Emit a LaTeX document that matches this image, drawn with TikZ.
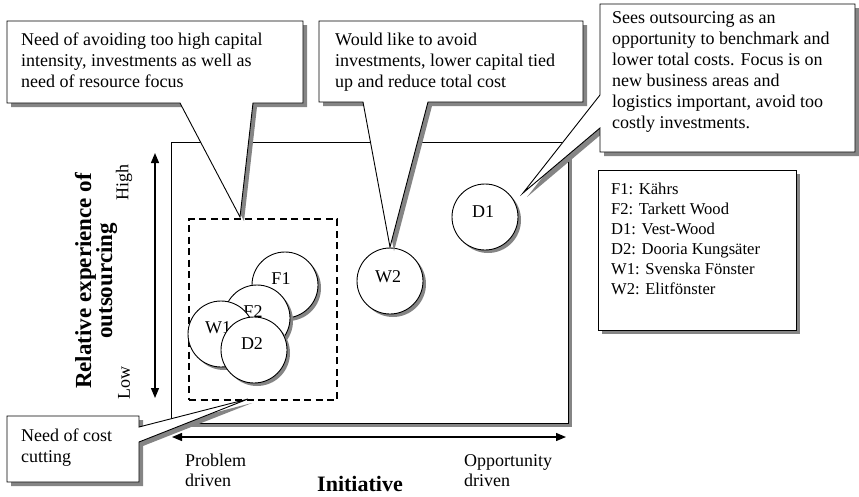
\documentclass[tikz,border=0pt]{standalone}
\usepackage{fontspec}
\setmainfont{Liberation Serif}
\usetikzlibrary{arrows.meta}
\definecolor{shadowgray}{HTML}{858585}

\begin{document}
\begin{tikzpicture}[x=1pt,y=-1pt,
  drop/.style={preaction={draw=none,fill=shadowgray,
      transform canvas={shift={(#1pt,-#1pt)}}}},
  frame/.style={draw=black,fill=white,line width=0.9pt,line join=miter},
  callout/.style={frame,drop=4},
  txt/.style={inner sep=0pt,align=left,font=\fontsize{18}{21}\selectfont},
  legendtxt/.style={inner sep=0pt,align=left,font=\fontsize{16.6}{20}\selectfont},
  axislabel/.style={inner sep=0pt,align=left,font=\fontsize{18}{20}\selectfont},
  boldlabel/.style={inner sep=0pt,align=center,
      font=\bfseries\fontsize{23}{21}\selectfont,
      execute at begin node={\lineskiplimit=-100pt\relax}},
  firm/.style={circle,draw=black,fill=white,line width=0.9pt,minimum size=66pt,
      inner sep=0pt,drop=3},
  firmname/.style={font=\fontsize{18}{20}\selectfont,inner sep=0pt},
  axisarrow/.style={line width=1.3pt,
      {Triangle[length=10pt,width=8pt]}-{Triangle[length=10pt,width=8pt]}},
  groupbox/.style={draw=black,line width=2pt,dash pattern=on 7pt off 4.5pt}]
\useasboundingbox (0,0) rectangle (859,496);

% plotting area
\node[frame,drop=4,minimum width=397pt,minimum height=281pt,inner sep=0pt,
      anchor=north west] (area) at (171,142) {};

% group of problem-driven firms
\node[groupbox,minimum width=148pt,minimum height=181pt,inner sep=0pt,
      anchor=north west] (group) at (188,218) {};

% firms
\node[firm,label={[firmname,xshift=-2pt,yshift=5pt]center:D1}] (D1) at (485,217) {};
\node[firm,label={[firmname,xshift=-2pt,yshift=4pt]center:W2}] (W2) at (390,281) {};
\node[firm,label={[firmname,xshift=-4pt,yshift=6pt]center:F1}] (F1) at (285,285) {};
\node[firm,label={[firmname,xshift=-4pt,yshift=6pt]center:F2}] (F2) at (257,318) {};
\node[firm,label={[firmname,xshift=-3pt,yshift=6pt]center:W1}] (W1) at (221,334) {};
\node[firm,label={[firmname,xshift=-2pt,yshift=6pt]center:D2}] (D2) at (254,350) {};

% axes
\coordinate (yhi) at (155,153);
\coordinate (ylo) at (155,398);
\coordinate (xlo) at (172,437);
\coordinate (xhi) at (566,437);
\draw[axisarrow] (ylo) -- (yhi);
\draw[axisarrow] (xlo) -- (xhi);

\node[axislabel,rotate=90] (high) at (124,182) {High};
\node[axislabel,rotate=90] (low) at (124,383) {Low};
\node[boldlabel,rotate=90] (ylabel) at (96,281) {Relative experience of\\outsourcing};
\node[axislabel,anchor=north west] (problem) at (185,454) {Problem\\driven};
\node[axislabel,anchor=north west] (opportunity) at (464,454) {Opportunity\\driven};
\node[inner sep=0pt,font=\bfseries\fontsize{22}{24}\selectfont,anchor=base] (xlabel)
     at (360,491) {Initiative};

% callouts
\coordinate (tipGroup) at (240,217);
\coordinate (tipW2) at (390,247);
\coordinate (tipD1) at (523,193);
\coordinate (tipCost) at (248,399);

\draw[callout] (7,21) -- (303,21) -- (303,103) -- (253,103) -- (tipGroup)
  -- (180,103) -- (7,103) -- cycle;
\node[txt,anchor=north west] (noteGroup) at (21,32.5)
  {Need of avoiding too high capital\\intensity, investments as well as\\need of resource focus};

\draw[callout] (319,21) -- (583,21) -- (583,102) -- (428,102) -- (tipW2)
  -- (363,102) -- (319,102) -- cycle;
\node[txt,anchor=north west] (noteW2) at (335,32.5)
  {Would like to avoid\\investments, lower capital tied\\up and reduce total cost};

\draw[callout] (600,4) -- (855,4) -- (855,152) -- (600,152) -- (600,128)
  -- (tipD1) -- (600,95) -- cycle;
\node[txt,anchor=north west] (noteD1) at (612,11)
  {Sees outsourcing as an\\opportunity to benchmark and\\lower total costs. Focus is on\\new business areas and\\logistics important, avoid too\\costly investments.};

\draw[callout] (7,416) -- (139,416) -- (139,427) -- (tipCost) -- (139,442)
  -- (139,482) -- (7,482) -- cycle;
\node[txt,anchor=north west] (noteCost) at (21,429)
  {Need of cost\\cutting};

% legend
\node[frame,drop=4,minimum width=198pt,minimum height=160pt,inner sep=0pt,
      anchor=north west] (legend) at (598,170) {};
\node[legendtxt,anchor=north west] (legendtext) at (611,182.7)
  {F1: Kährs\\F2: Tarkett Wood\\D1: Vest-Wood\\D2: Dooria Kungsäter\\W1: Svenska Fönster\\W2: Elitfönster};

\end{tikzpicture}
\end{document}
